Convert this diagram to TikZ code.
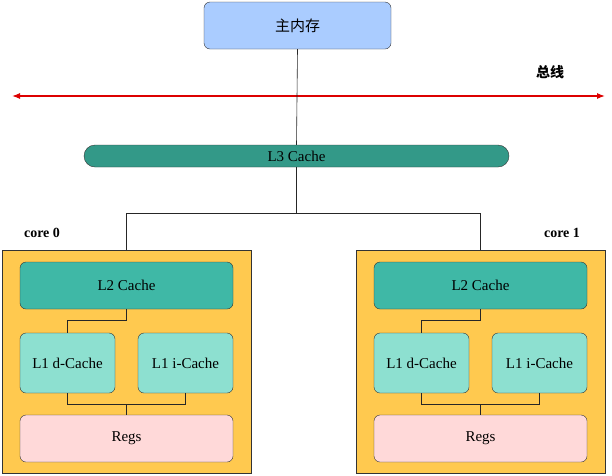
\documentclass[tikz,border=0pt]{standalone}
\usepackage{fontspec}
\setmainfont{Liberation Serif}
\newfontfamily\cjk{Noto Sans CJK SC}
\usetikzlibrary{positioning, arrows.meta, calc}
\definecolor{memBlue}{HTML}{AACCFF}
\definecolor{lthreeTeal}{HTML}{339988}
\definecolor{ltwoTeal}{HTML}{3FB8A6}
\definecolor{loneTeal}{HTML}{8DE0D0}
\definecolor{regPink}{HTML}{FFD9D9}
\definecolor{coreYellow}{HTML}{FFC94F}
\definecolor{busRed}{HTML}{DD0000}
\tikzset{
  blk/.style={draw=black!80, rounded corners=6pt, align=center, font=\fontsize{15}{17}\selectfont, inner sep=0pt},
  wire/.style={draw=black!85, line width=0.6pt}
}
\begin{document}
\begin{tikzpicture}[x=1pt, y=-1pt]
\useasboundingbox (0,0) rectangle (612,475);
\node (mem) [blk, fill=memBlue, minimum width=187pt, minimum height=47pt] at (297.5,25.5) {\cjk 主内存};
\node (l3) [blk, fill=lthreeTeal, rounded corners=11pt, minimum width=425pt, minimum height=22pt] at (296.5,156) {L3 Cache};
\coordinate (busL) at (12,96);
\coordinate (busR) at (605,96);
\draw[busRed, line width=1.2pt, {Latex[length=8pt]}-{Latex[length=8pt]}] (busL) -- (busR);
\node (bus) [font=\cjk\bfseries\fontsize{14}{16}\selectfont] at (550,72) {总线};
\draw[wire] (mem.south) -- (l3.north);
\coordinate (split) at (296.5,213);
\draw[wire] (l3.south) -- (split);

% two cores
\foreach \i/\dx in {0/0, 1/354} {
  \node (core\i) [draw=black!80, fill=coreYellow, minimum width=249pt, minimum height=223pt, inner sep=0pt] at (126.5+\dx,361.5) {};
  \node (ltwo\i) [blk, fill=ltwoTeal, minimum width=213pt, minimum height=47pt] at (126.5+\dx,285.5) {L2 Cache};
  \node (lond\i) [blk, fill=loneTeal, minimum width=95pt, minimum height=60pt] at (67.5+\dx,363) {L1 d-Cache};
  \node (loni\i) [blk, fill=loneTeal, minimum width=95pt, minimum height=60pt] at (185.5+\dx,363) {L1 i-Cache};
  \node (regs\i) [blk, fill=regPink, minimum width=213pt, minimum height=47pt] at (126.5+\dx,438.5) {Regs};
  \draw[wire] (split) -| (core\i.north);
  \draw[wire] (ltwo\i.south) |- ++(0,11) -| (lond\i.north);
  \draw[wire] (lond\i.south) |- ++(0,11) -| (loni\i.south);
  \draw[wire] (regs\i.north) -- ++(0,-11);
}
\node (corelbl0) [font=\bfseries\fontsize{14}{16}\selectfont] at (42,233) {core 0};
\node (corelbl1) [font=\bfseries\fontsize{14}{16}\selectfont] at (562,233) {core 1};
\end{tikzpicture}
\end{document}
